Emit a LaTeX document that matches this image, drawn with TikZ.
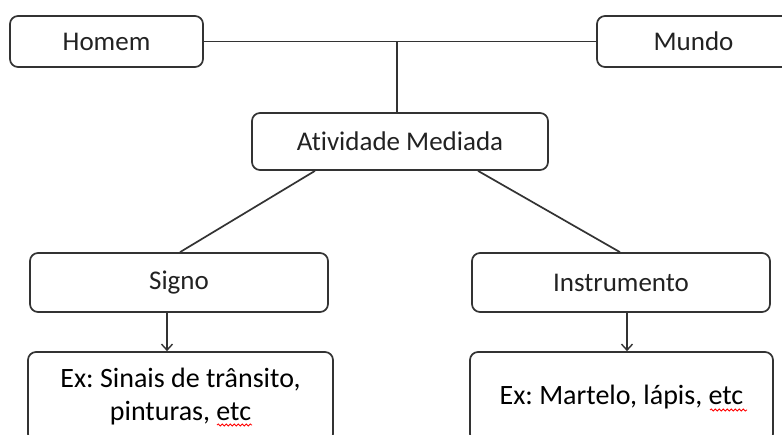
\documentclass[tikz,border=0pt]{standalone}
\usepackage{fontspec}
\setmainfont{Carlito}[Ligatures=NoCommon]
\frenchspacing
\usetikzlibrary{arrows.meta,decorations.pathmorphing}
\definecolor{edge}{HTML}{333333}
\definecolor{txt}{HTML}{222222}
\tikzset{
  box/.style={draw=edge, line width=1.7pt, rounded corners=8pt, fill=white,
    inner sep=0pt, font=\fontsize{27}{33}\selectfont, text=txt, align=center},
  link/.style={draw=edge, line width=1.7pt},
  arr/.style={link, -{Straight Barb[length=6pt,width=11pt,line width=1.4pt]}},
  spell/.style={draw=red, line width=0.8pt, decorate,
    decoration={snake, amplitude=1.1pt, segment length=4pt}}
}
\begin{document}
\begin{tikzpicture}[x=1pt,y=-1pt]
\useasboundingbox (0,0) rectangle (782,434);
\clip (0,0) rectangle (782,434);
\fill[white] (0,0) rectangle (782,434);
\node[box, minimum width=193pt, minimum height=51pt] (homem) at (106.5,41.5) {Homem};
\node[box, minimum width=193pt, minimum height=51pt] (mundo) at (693.5,41.5) {Mundo};
\node[box, minimum width=296pt, minimum height=57pt] (ativ) at (400,141.5) {Atividade Mediada};
\node[box, minimum width=298pt, minimum height=59pt] (signo) at (179,282.5) {Signo};
\node[box, minimum width=298pt, minimum height=59pt] (instr) at (621,282.5) {Instrumento};
\node[box, minimum width=305pt, minimum height=90pt, font=\fontsize{28}{33}\selectfont, text=black] (exs) at (180.5,397) {Ex: Sinais de trânsito,\\pinturas, etc};
\node[box, minimum width=303pt, minimum height=90pt, font=\fontsize{28}{33}\selectfont, text=black] (exi) at (621.5,397) {Ex: Martelo, lápis, etc};
\draw[link] (homem.east) -- (mundo.west);
\coordinate (j) at (397,41.5);
\draw[link] (j) -- (j |- ativ.north);
\draw[link] ([xshift=-85pt]ativ.south) -- ([xshift=1pt]signo.north);
\draw[link] ([xshift=78pt]ativ.south) -- ([xshift=-1pt]instr.north);
\draw[arr] ([xshift=-12pt]signo.south) -- ([xshift=-12pt]signo.south |- exs.north);
\draw[arr] ([xshift=6pt]instr.south) -- ([xshift=6pt]instr.south |- exi.north);
\draw[spell] (217,425) -- (252,425);
\draw[spell] (710,410) -- (747,410);
\end{tikzpicture}
\end{document}
